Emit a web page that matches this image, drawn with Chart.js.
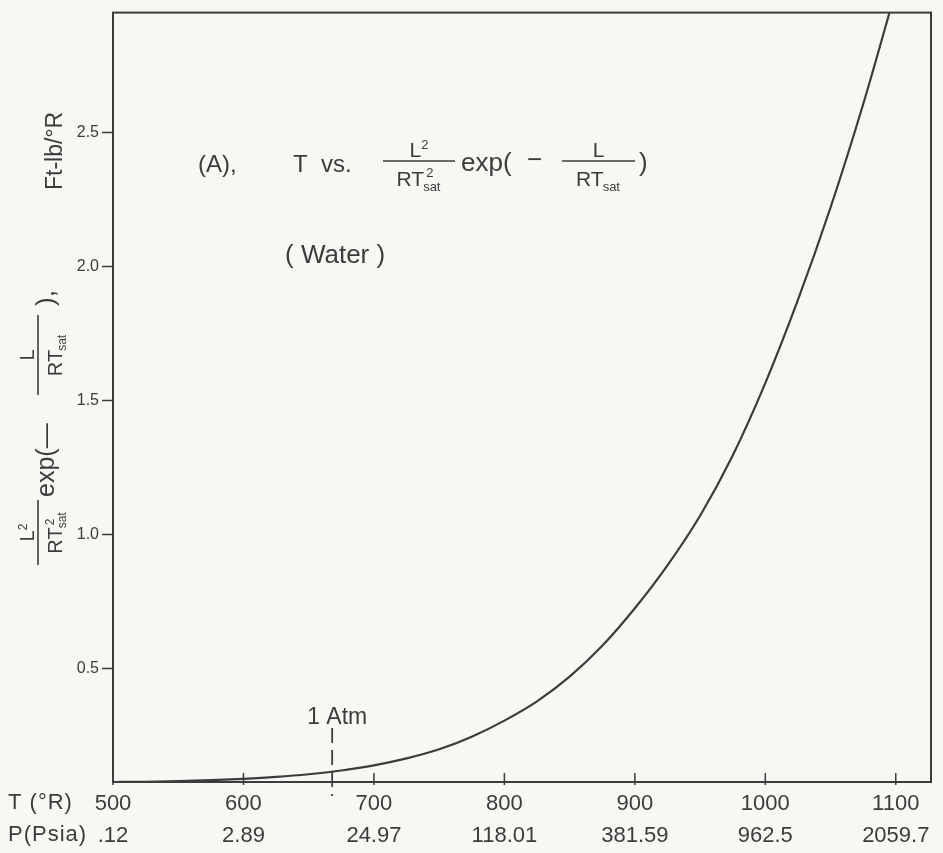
<!DOCTYPE html>
<html>
<head>
<meta charset="utf-8">
<script src="https://cdn.jsdelivr.net/npm/chart.js@4.4.1/dist/chart.umd.min.js"></script>
<style>
  html, body { margin: 0; padding: 0; background: #f7f7f4; }
  #wrap { width: 943px; height: 853px; }
</style>
</head>
<body>
<div id="wrap"><canvas id="chart" width="943" height="853"></canvas></div>
<script>
// saturation temperature (°R) and L²/(RT²) exp(-L/RT)
const T_VALUES = [500, 525, 550, 575, 600, 625, 650, 675, 700, 725, 750, 775, 800, 825, 850, 875, 900, 925, 950, 975, 1000, 1025, 1050, 1075, 1100];
const CURVE_VALUES = [0.076, 0.077, 0.079, 0.083, 0.088, 0.095, 0.105, 0.119, 0.138, 0.164, 0.198, 0.245, 0.305, 0.377, 0.469, 0.584, 0.724, 0.884, 1.069, 1.294, 1.564, 1.874, 2.219, 2.604, 3.029];

// axis ticks: temperature row and matching saturation pressure row
const T_TICKS = [500, 600, 700, 800, 900, 1000, 1100];
const P_TICKS = ['.12', '2.89', '24.97', '118.01', '381.59', '962.5', '2059.7'];
const Y_TICKS = [0.5, 1.0, 1.5, 2.0, 2.5];
const ATM_T = 668;

const INK = '#3c3c3c';
const FONT = "'Liberation Sans', 'DejaVu Sans', sans-serif";

function setFont(ctx, size) {
  ctx.font = size + 'px ' + FONT;
}

// width of "RT" with stacked ² and "sat"
function rtWidth(ctx, size) {
  setFont(ctx, size);
  const w = ctx.measureText('RT').width;
  setFont(ctx, Math.round(size * 0.62));
  return w + ctx.measureText('sat').width;
}

function drawRT(ctx, x, y, size, squared) {
  setFont(ctx, size);
  ctx.fillText('RT', x, y);
  const w = ctx.measureText('RT').width;
  setFont(ctx, Math.round(size * 0.62));
  ctx.fillText('sat', x + w - 1, y + size * 0.22);
  if (squared) ctx.fillText('2', x + w + 2, y - size * 0.42);
}

// fraction with a bar at barY, numerator "L" (or "L²") over RTsat
function drawFrac(ctx, x0, x1, barY, size, squared) {
  const cx = (x0 + x1) / 2;
  ctx.lineWidth = 1.6;
  ctx.beginPath();
  ctx.moveTo(x0, barY);
  ctx.lineTo(x1, barY);
  ctx.stroke();
  setFont(ctx, size);
  const lw = ctx.measureText('L').width;
  let nw = lw;
  if (squared) {
    setFont(ctx, Math.round(size * 0.62));
    nw += ctx.measureText('2').width;
    setFont(ctx, size);
  }
  ctx.fillText('L', cx - nw / 2, barY - 4);
  if (squared) {
    setFont(ctx, Math.round(size * 0.62));
    ctx.fillText('2', cx - nw / 2 + lw, barY - size * 0.55);
  }
  const dw = rtWidth(ctx, size);
  drawRT(ctx, cx - dw / 2, barY + size + 4, size, squared);
}

const framePlugin = {
  id: 'frame',
  afterDraw(chart) {
    const { ctx, chartArea: a, scales } = chart;
    ctx.save();
    ctx.strokeStyle = INK;
    ctx.lineWidth = 2;
    ctx.strokeRect(a.left, a.top, a.right - a.left, a.bottom - a.top);

    // x tick marks sit on the inside of the axis
    ctx.lineWidth = 1.5;
    T_TICKS.forEach((t) => {
      const px = scales.x.getPixelForValue(t);
      ctx.beginPath();
      ctx.moveTo(px, a.bottom - 9);
      ctx.lineTo(px, a.bottom + 3);
      ctx.stroke();
    });

    // row captions for the two label rows
    ctx.fillStyle = INK;
    ctx.textBaseline = 'alphabetic';
    setFont(ctx, 22);
    ctx.letterSpacing = '1px';
    ctx.fillText('T (°R)', 8, a.bottom + 27);
    ctx.fillText('P(Psia)', 8, a.bottom + 59);
    ctx.letterSpacing = '0px';

    // 1 atmosphere marker
    const ax = scales.x.getPixelForValue(ATM_T);
    ctx.setLineDash([15, 7]);
    ctx.lineWidth = 1.8;
    ctx.beginPath();
    ctx.moveTo(ax, 728);
    ctx.lineTo(ax, a.bottom + 14);
    ctx.stroke();
    ctx.setLineDash([]);
    setFont(ctx, 23);
    ctx.fillText('1 Atm', ax - 25, 724);

    // title inside the plot
    setFont(ctx, 24);
    ctx.fillText('(A),', 198, 172);
    ctx.fillText('T  vs.', 293, 172);
    drawFrac(ctx, 383, 455, 161, 21, true);
    setFont(ctx, 26);
    ctx.fillText('exp(', 461, 171);
    ctx.fillText('−', 527, 168);
    drawFrac(ctx, 562, 635, 161, 21, false);
    setFont(ctx, 26);
    ctx.fillText(')', 639, 171);
    ctx.fillText('( Water )', 285, 263);

    // rotated y axis title
    ctx.save();
    ctx.rotate(-Math.PI / 2);
    // in this frame: x = -pageY, y = pageX
    drawFrac(ctx, -565, -500, 38, 20, true);
    setFont(ctx, 25);
    ctx.fillText('exp(—', -497, 54);
    drawFrac(ctx, -395, -315, 38, 20, false);
    setFont(ctx, 26);
    ctx.fillText('),', -306, 54);
    setFont(ctx, 23);
    ctx.fillText('Ft-lb/°R', -190, 62);
    ctx.restore();

    ctx.restore();
  },
};

new Chart(document.getElementById('chart'), {
  type: 'line',
  data: {
    datasets: [
      {
        data: T_VALUES.map((t, i) => ({ x: t, y: CURVE_VALUES[i] })),
        borderColor: INK,
        borderWidth: 2.2,
        pointRadius: 0,
        cubicInterpolationMode: 'monotone',
        fill: false,
      },
    ],
  },
  options: {
    responsive: false,
    animation: false,
    layout: { padding: { top: 10, right: 12, left: 0, bottom: 0 } },
    plugins: { legend: { display: false }, tooltip: { enabled: false } },
    scales: {
      x: {
        type: 'linear',
        min: 500,
        max: 1127,
        afterBuildTicks: (s) => { s.ticks = T_TICKS.map((v) => ({ value: v })); },
        afterFit: (s) => { s.height = 71; },
        grid: { display: false, drawTicks: false },
        border: { display: true, color: INK, width: 2 },
        ticks: {
          color: INK,
          autoSkip: false,
          maxRotation: 0,
          padding: 6,
          font: { family: FONT, size: 22, lineHeight: 1.45 },
          callback: (v, i) => [String(v), P_TICKS[i]],
        },
      },
      y: {
        type: 'linear',
        min: 0.076,
        max: 2.946,
        afterBuildTicks: (s) => { s.ticks = Y_TICKS.map((v) => ({ value: v })); },
        afterFit: (s) => { s.width = 113; },
        grid: { drawOnChartArea: false, drawTicks: true, tickLength: 11, tickColor: INK, tickWidth: 1.5 },
        border: { display: true, color: INK, width: 2 },
        ticks: {
          color: INK,
          padding: 3,
          font: { family: FONT, size: 16 },
          callback: (v) => v.toFixed(1),
        },
      },
    },
  },
  plugins: [framePlugin],
});
</script>
</body>
</html>
